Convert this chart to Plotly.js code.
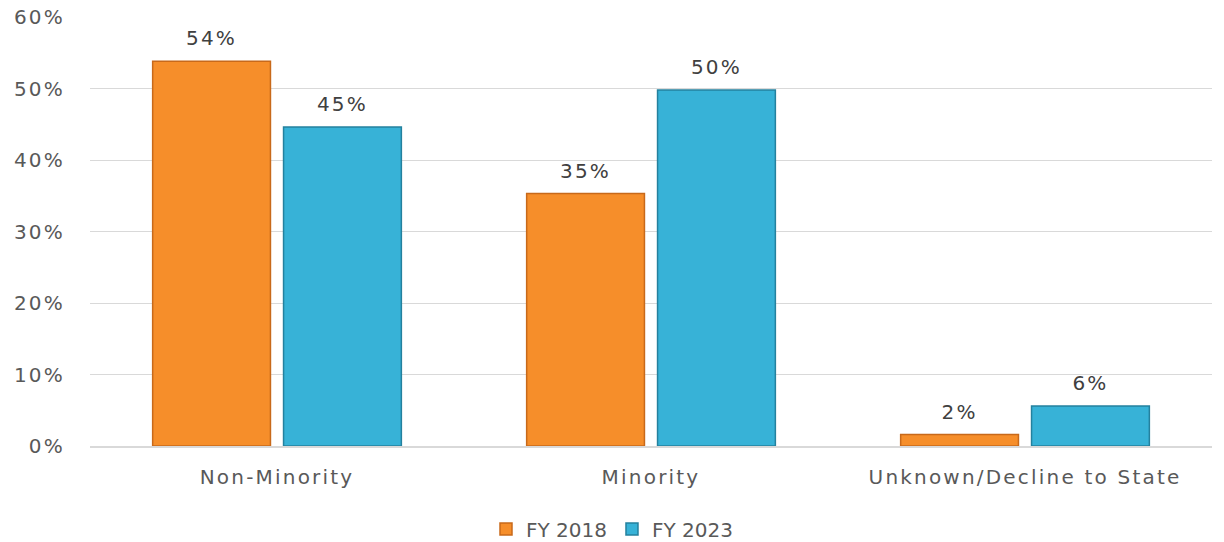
<!DOCTYPE html>
<html><head><meta charset="utf-8">
<script src="https://cdn.plot.ly/plotly-3.0.1.min.js"></script>
<style>body{margin:0;background:#fff}#c{width:1224px;height:542px}
#c .xtick text, #c .ytick text, #c .textpoint text{letter-spacing:2.2px}</style>
</head><body><div id="c"></div>
<script>
const categories = ["Non-Minority", "Minority", "Unknown/Decline to State"];
const fy2018 = [0.538, 0.353, 0.016];
const fy2023 = [0.446, 0.498, 0.056];
const seriesNames = ["FY 2018", "FY 2023"];
const tickVals = [0, 0.1, 0.2, 0.3, 0.4, 0.5, 0.6];

const fontFam = "DejaVu Sans, sans-serif";
const colors = ["#F68E2A", "#37B2D7"];
const lineColors = ["#C8691A", "#24819E"];
const series = [fy2018, fy2023];

const traces = [];
series.forEach((vals, i) => {
  traces.push({type:"bar", name:seriesNames[i], x:categories, y:vals,
    marker:{color:colors[i], line:{color:lineColors[i], width:1.5}},
    hoverinfo:"skip"});
});
series.forEach((vals, i) => {
  traces.push({type:"scatter", mode:"markers+text", name:seriesNames[i] + " label",
    x:categories, y:vals, showlegend:false, cliponaxis:false,
    marker:{size:16, opacity:0, color:colors[i]},
    texttemplate:"%{y:.0%}", textposition:"top center",
    textfont:{size:20, color:"#404040", family:fontFam}});
});

const layout = {
  width:1224, height:542,
  margin:{l:90, r:12, t:17, b:96},
  paper_bgcolor:"#fff", plot_bgcolor:"#fff",
  barmode:"group", bargap:0.30, bargroupgap:0.1,
  scattermode:"group", scattergap:0.30,
  font:{family:fontFam, color:"#595959", size:20},
  xaxis:{showgrid:false, showline:true, linecolor:"#D9D9D9", linewidth:1.5,
         ticks:"", tickfont:{size:20, color:"#595959"}, ticklabelstandoff:12},
  yaxis:{range:[0,0.6], tickvals:tickVals, tickformat:".0%", showline:false,
         gridcolor:"#D9D9D9", gridwidth:1, zeroline:false,
         tickfont:{size:20, color:"#595959"}, ticklabelstandoff:24},
  legend:{orientation:"h", x:0.5, xanchor:"center", xref:"container",
          y:0.024, yanchor:"middle", yref:"container",
          font:{size:20, color:"#595959"}, itemwidth:30, traceorder:"normal"},
  showlegend:true
};
Plotly.newPlot("c", traces, layout, {displayModeBar:false, staticPlot:true});
</script></body></html>
